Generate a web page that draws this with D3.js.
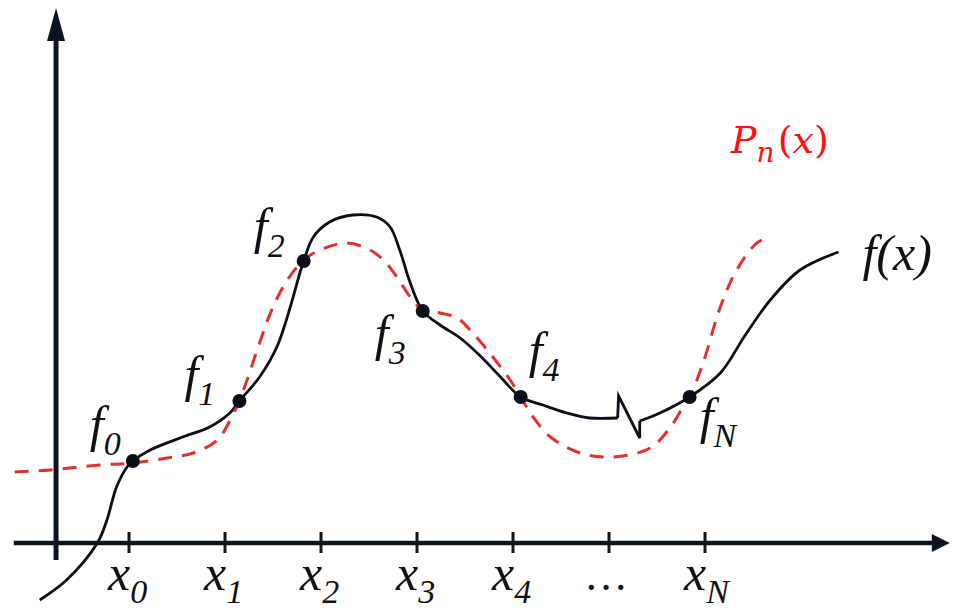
<!DOCTYPE html>
<html>
<head>
<meta charset="utf-8">
<script src="https://cdn.jsdelivr.net/npm/d3@7"></script>
</head>
<body style="margin:0;background:#fff">
<div id="chart"></div>
<script>
// f(x), left of the break
var fLeft = [[-0.93,-1.14],[-0.65,-0.74],[-0.33,0],[-0.23,0.46],[-0.13,1.12],[-0.02,1.52],
  [0.04,1.64],[0.22,1.86],[0.56,2.12],[0.84,2.32],[1.05,2.60],[1.15,2.84],[1.36,3.32],
  [1.54,3.92],[1.68,4.72],[1.78,5.40],[1.82,5.64],[1.92,6.12],[2.09,6.42],[2.33,6.56],
  [2.58,6.52],[2.72,6.32],[2.82,5.86],[2.93,5.20],[3.06,4.64],[3.24,4.36],[3.45,4.10],
  [3.66,3.74],[3.86,3.34],[4.08,2.92],[4.31,2.76],[4.56,2.60],[4.80,2.50],[5.09,2.50]];
// the break mark
var fBreak = [[5.09,2.50],[5.10,2.94],[5.32,2.10],[5.32,2.44]];
// f(x), right of the break
var fRight = [[5.32,2.44],[5.53,2.60],[5.84,2.92],[6.16,3.40],[6.42,4.16],[6.68,4.86],
  [6.99,5.46],[7.39,5.82]];
// P_n(x)
var pCurve = [[-1.19,1.42],[-0.82,1.46],[-0.30,1.56],[0.04,1.60],[0.40,1.70],[0.67,1.80],
  [0.92,2.06],[1.08,2.56],[1.15,2.84],[1.23,3.26],[1.36,4.00],[1.50,4.72],[1.65,5.26],
  [1.82,5.66],[1.99,5.86],[2.27,6.00],[2.51,5.86],[2.65,5.66],[2.79,5.32],[2.93,4.92],
  [3.06,4.66],[3.24,4.60],[3.42,4.50],[3.58,4.20],[3.79,3.72],[3.97,3.26],[4.08,2.92],
  [4.21,2.52],[4.39,2.12],[4.70,1.80],[5.04,1.72],[5.43,1.90],[5.64,2.32],[5.77,2.72],
  [5.84,2.92],[5.98,3.60],[6.16,4.72],[6.33,5.46],[6.54,6.00],[6.66,6.10]];

var nodeX = [0.04, 1.15, 1.82, 3.06, 4.08, 5.84];
var nodeY = [1.64, 2.84, 5.64, 4.64, 2.92, 2.92];
var nodeSubs = ["0", "1", "2", "3", "4", "N"];

var tickValues = [0, 1, 2, 3, 4, 5, 6];
var tickSubs = ["0", "1", "2", "3", "4", null, "N"];

var xAxisExtent = [-1.2, 8.55];
var yAxisExtent = [-0.34, 10.7];
var yAxisAt = -0.76;

var width = 953, height = 609;
var serif = "Liberation Serif";

var svg = d3.select("#chart").append("svg")
  .attr("width", width)
  .attr("height", height);

var x = d3.scaleLinear().domain([0, 6]).range([129, 705]);
var y = d3.scaleLinear().domain([0, 10]).range([543, 43]);

var axisColor = "#0c1420";

// axes
svg.append("line")
  .attr("x1", x(xAxisExtent[0])).attr("x2", x(xAxisExtent[1]) - 14)
  .attr("y1", y(0)).attr("y2", y(0))
  .style("stroke", axisColor).style("stroke-width", 4.5);

svg.append("line")
  .attr("x1", x(yAxisAt)).attr("x2", x(yAxisAt))
  .attr("y1", y(yAxisExtent[0])).attr("y2", y(yAxisExtent[1]) + 14)
  .style("stroke", axisColor).style("stroke-width", 5);

var xt = x(xAxisExtent[1]), y0 = y(0);
svg.append("path")
  .attr("d", "M" + xt + "," + y0 + "L" + (xt - 18) + "," + (y0 - 9) + "L" + (xt - 18) + "," + (y0 + 9) + "Z")
  .style("fill", axisColor);

var yt = y(yAxisExtent[1]), xa = x(yAxisAt);
svg.append("path")
  .attr("d", "M" + xa + "," + yt + "L" + (xa - 9) + "," + (yt + 33) + "L" + (xa + 9) + "," + (yt + 33) + "Z")
  .style("fill", axisColor);

// ticks
svg.selectAll(".tick")
  .data(tickValues)
  .enter()
  .append("line")
  .attr("class", "tick")
  .attr("x1", d => x(d)).attr("x2", d => x(d))
  .attr("y1", y0 - 11).attr("y2", y0 + 10)
  .style("stroke", axisColor).style("stroke-width", 3);

var tickText = svg.selectAll(".ticklabel")
  .data(tickValues)
  .enter()
  .append("text")
  .attr("class", "ticklabel")
  .attr("x", (d, i) => tickSubs[i] === null ? x(d) - 3 : x(d) - 21)
  .attr("y", 590)
  .attr("text-anchor", (d, i) => tickSubs[i] === null ? "middle" : "start")
  .attr("font-family", serif)
  .attr("font-style", "italic")
  .attr("font-size", 50)
  .attr("fill", "#111");

tickText.each(function(d, i) {
  var t = d3.select(this);
  if (tickSubs[i] === null) {
    t.attr("font-style", "normal").attr("font-size", 44).text("\u2026");
  } else {
    t.append("tspan").text("x");
    t.append("tspan").attr("dy", 13).attr("font-size", 34).text(tickSubs[i]);
  }
});

// curves
var line = d3.line()
  .x(d => x(d[0]))
  .y(d => y(d[1]))
  .curve(d3.curveCatmullRom.alpha(0.5));

var lineStraight = d3.line()
  .x(d => x(d[0]))
  .y(d => y(d[1]));

var fColor = "#0b0f17";

svg.append("path").datum(fLeft).attr("d", line)
  .style("fill", "none").style("stroke", fColor).style("stroke-width", 2.8);
svg.append("path").datum(fBreak).attr("d", lineStraight)
  .style("fill", "none").style("stroke", fColor).style("stroke-width", 2.8)
  .style("stroke-linejoin", "miter");
svg.append("path").datum(fRight).attr("d", line)
  .style("fill", "none").style("stroke", fColor).style("stroke-width", 2.8);

svg.append("path").datum(pCurve).attr("d", line)
  .style("fill", "none")
  .style("stroke", "#e0312f")
  .style("stroke-width", 3)
  .style("stroke-dasharray", "14,10");

// nodes
svg.selectAll(".node")
  .data(nodeX)
  .enter()
  .append("circle")
  .attr("class", "node")
  .attr("cx", d => x(d))
  .attr("cy", (d, i) => y(nodeY[i]))
  .attr("r", 7)
  .style("fill", fColor);

// node labels, offset from their node
var labelOffset = [[-43, -20], [-55, -10], [-50, -18], [-48, 39], [8, -30], [10, 36]];

var nodeText = svg.selectAll(".nodelabel")
  .data(nodeX)
  .enter()
  .append("text")
  .attr("class", "nodelabel")
  .attr("x", (d, i) => x(d) + labelOffset[i][0])
  .attr("y", (d, i) => y(nodeY[i]) + labelOffset[i][1])
  .attr("font-family", serif)
  .attr("font-style", "italic")
  .attr("font-size", 50)
  .attr("fill", "#111");

nodeText.append("tspan").text("f");
nodeText.append("tspan")
  .attr("dy", 14)
  .attr("font-size", 34)
  .text((d, i) => nodeSubs[i]);

// curve names
var last = fRight[fRight.length - 1];
svg.append("text")
  .attr("x", x(last[0]) + 24)
  .attr("y", y(last[1]) + 18)
  .attr("font-family", serif)
  .attr("font-style", "italic")
  .attr("font-size", 50)
  .attr("fill", "#111")
  .text("f(x)");

var pn = svg.append("text")
  .attr("x", 731)
  .attr("y", 153)
  .attr("font-family", "DejaVu Serif")
  .attr("font-style", "italic")
  .attr("font-size", 38)
  .attr("fill", "#ff1010");
pn.append("tspan").text("P");
pn.append("tspan").attr("dy", 9).attr("font-size", 28).text("n");
pn.append("tspan").attr("dy", -9).attr("dx", 3).attr("font-style", "normal").text("(");
pn.append("tspan").text("x");
pn.append("tspan").attr("font-style", "normal").text(")");
</script>
</body>
</html>
